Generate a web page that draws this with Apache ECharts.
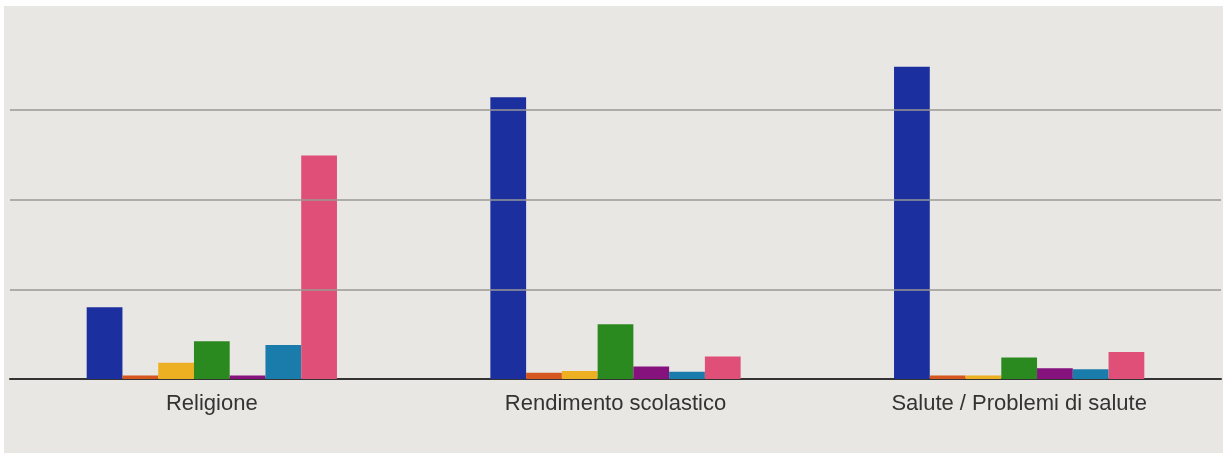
<!DOCTYPE html>
<html>
<head>
<meta charset="utf-8">
<script src="https://cdn.jsdelivr.net/npm/echarts@6/dist/echarts.min.js"></script>
<style>
html,body{margin:0;padding:0;background:#ffffff;}
#c{position:absolute;left:4px;top:6px;width:1219px;height:447px;background:#e9e7e3;}
</style>
</head>
<body>
<div id="c"></div>
<script>
const categories = ["Religione", "Rendimento scolastico", "Salute / Problemi di salute"];
const seriesNames = ["Serie 1", "Serie 2", "Serie 3", "Serie 4", "Serie 5", "Serie 6", "Serie 7"];
const gridValues = [1, 2, 3];
const s1 = [0.80, 3.14, 3.48];
const s2 = [0.04, 0.07, 0.04];
const s3 = [0.18, 0.09, 0.04];
const s4 = [0.42, 0.61, 0.24];
const s5 = [0.04, 0.14, 0.12];
const s6 = [0.38, 0.08, 0.11];
const s7 = [2.49, 0.25, 0.30];
const colors = ["#1b2f9e", "#d6561f", "#eeb023", "#2b8a1f", "#86127e", "#1a7cab", "#df4f77"];

const allSeries = [s1, s2, s3, s4, s5, s6, s7];
const chart = echarts.init(document.getElementById('c'));
chart.setOption({
  backgroundColor: '#e9e7e3',
  animation: false,
  grid: {left: 6, right: 2, top: 32, bottom: 74},
  xAxis: {
    type: 'category',
    data: categories,
    axisLine: {lineStyle: {color: '#333', width: 2}},
    axisTick: {show: false},
    axisLabel: {color: '#333', fontSize: 22, fontFamily: 'Liberation Sans, Arial, sans-serif', margin: 14}
  },
  yAxis: {
    type: 'value',
    min: 0, max: 3.8,
    axisLabel: {show: false},
    axisLine: {show: false},
    axisTick: {show: false},
    splitLine: {show: false}
  },
  series: allSeries.map((d, i) => {
    const s = {
      name: seriesNames[i],
      type: 'bar',
      data: d,
      barGap: '0%',
      barCategoryGap: '38%',
      itemStyle: {color: colors[i]}
    };
    if (i === 0) {
      s.markLine = {
        silent: true,
        symbol: ['none', 'none'],
        label: {show: false},
        lineStyle: {color: '#9a9995', width: 1.5, type: 'solid'},
        data: gridValues.map(v => ({yAxis: v}))
      };
    }
    return s;
  })
});
</script>
</body>
</html>
